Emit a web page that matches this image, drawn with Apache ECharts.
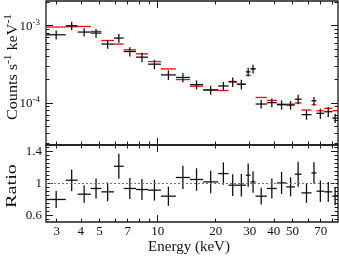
<!DOCTYPE html>
<html><head><meta charset="utf-8">
<script src="https://cdn.jsdelivr.net/npm/echarts@6/dist/echarts.min.js"></script>
<style>html,body{margin:0;padding:0;background:#fff}#c{width:339px;height:257px}</style>
</head><body><div id="c"></div>
<script>
// ---- data (energy bins in keV) ----
const binLo = [2.66, 3.34, 3.85, 4.50, 5.11, 5.94, 6.67, 7.72, 8.91, 10.4, 12.43, 14.70, 17.22, 20.59, 23.31, 25.73, 28.64, 30.29, 32.16, 36.80, 41.45, 46.42, 51.37, 55.64, 62.67, 66.53, 73.01, 80.33];
const binHi = [3.34, 3.85, 4.50, 5.11, 5.94, 6.67, 7.72, 8.91, 10.4, 12.43, 14.70, 17.22, 20.59, 23.31, 25.73, 28.64, 30.29, 32.16, 36.80, 41.45, 46.42, 51.37, 55.64, 62.67, 66.53, 73.01, 80.33, 86];
const counts = [7.64e-4, 1.0e-3, 8.28e-4, 8.04e-4, 5.79e-4, 6.92e-4, 4.64e-4, 3.92e-4, 3.18e-4, 2.31e-4, 2.14e-4, 1.73e-4, 1.475e-4, 1.66e-4, 1.875e-4, 1.75e-4, 2.53e-4, 2.77e-4, 9.7e-5, 1.01e-4, 9.5e-5, 9.4e-5, 1.12e-4, 7.07e-5, 1.07e-4, 7.35e-5, 7.71e-5, 6.38e-5];
const countErr = [1.02e-4, 1.28e-4, 1.02e-4, 1.06e-4, 7.6e-5, 8.8e-5, 6.4e-5, 5.5e-5, 4.5e-5, 3.3e-5, 2.9e-5, 2.3e-5, 2.0e-5, 2.1e-5, 2.6e-5, 2.5e-5, 3.3e-5, 3.6e-5, 1.2e-5, 1.3e-5, 1.3e-5, 1.2e-5, 1.6e-5, 1.0e-5, 1.3e-5, 1.1e-5, 1.1e-5, 8.6e-6];
const model = [9.62e-4, 9.70e-4, 9.79e-4, 8.43e-4, 6.44e-4, 5.79e-4, 4.88e-4, 4.33e-4, 3.44e-4, 2.76e-4, 2.01e-4, 1.65e-4, 1.475e-4, 1.45e-4, 1.90e-4, 1.75e-4, 2.28e-4, 2.77e-4, 1.18e-4, 1.08e-4, 9.65e-5, 9.65e-5, 1.0e-4, 8.1e-5, 9.45e-5, 7.94e-5, 8.53e-5, 7.94e-5];
const ratio = [0.801, 1.041, 0.867, 0.938, 0.896, 1.215, 0.938, 0.925, 0.917, 0.842, 1.075, 1.05, 1.02, 1.124, 0.979, 0.979, 1.103, 1.02, 0.842, 0.938, 1.007, 0.958, 1.116, 0.883, 1.132, 0.904, 0.896, 0.842];
const ratioErr = [0.107, 0.133, 0.107, 0.124, 0.118, 0.155, 0.13, 0.13, 0.13, 0.12, 0.145, 0.14, 0.14, 0.14, 0.135, 0.14, 0.145, 0.134, 0.104, 0.124, 0.139, 0.118, 0.155, 0.124, 0.134, 0.134, 0.124, 0.114];

// ---- axes ticks / labels ----
const xMin = 2.64, xMax = 86;
const xLabels = [3, 4, 5, 7, 10, 20, 30, 40, 50, 70];
const xMinorTicks = [3, 4, 5, 6, 7, 8, 9, 20, 30, 40, 50, 60, 70, 80];
const xMajorTicks = [10];
const yTopMin = 2.86e-5, yTopMax = 2.09e-3;
const yTopMajor = [1e-4, 1e-3];
const yTopMinor = [3e-5, 4e-5, 5e-5, 6e-5, 7e-5, 8e-5, 9e-5, 2e-4, 3e-4, 4e-4, 5e-4, 6e-4, 7e-4, 8e-4, 9e-4, 2e-3];
const yRatioMin = 0.52, yRatioMax = 1.48;
const yRatioMajor = [0.6, 1, 1.4];
const yRatioMinor = [0.55, 0.65, 0.7, 0.75, 0.8, 0.85, 0.9, 0.95, 1.05, 1.1, 1.15, 1.2, 1.25, 1.3, 1.35, 1.45];

const FONT = 'Liberation Serif';
const AX = '#1a1a1a';

function tickAxis(kind, grid, pos, ticks, len, extra) {
  const a = {
    gridIndex: grid, position: pos,
    axisLine: {show: false}, splitLine: {show: false},
    axisTick: {show: true, inside: true, length: len, customValues: ticks, lineStyle: {color: AX, width: 1}},
    axisLabel: {show: false}
  };
  if (kind === 'x') { a.type = 'log'; a.min = xMin; a.max = xMax; }
  else if (grid === 0) { a.type = 'log'; a.min = yTopMin; a.max = yTopMax; }
  else { a.type = 'value'; a.min = yRatioMin; a.max = yRatioMax; }
  return Object.assign(a, extra || {});
}

const xAxes = [
  tickAxis('x', 0, 'bottom', xMinorTicks, 3.5),
  tickAxis('x', 0, 'bottom', xMajorTicks, 7),
  tickAxis('x', 0, 'top', xMinorTicks, 3.5),
  tickAxis('x', 0, 'top', xMajorTicks, 7),
  tickAxis('x', 1, 'bottom', xMinorTicks, 3.5, {
    axisLabel: {show: true, customValues: xLabels, margin: 3, fontFamily: FONT, fontSize: 13, color: '#111',
      formatter: v => String(Math.round(v))}
  }),
  tickAxis('x', 1, 'bottom', xMajorTicks, 7),
  tickAxis('x', 1, 'top', xMinorTicks, 3.5),
  tickAxis('x', 1, 'top', xMajorTicks, 7)
];
const yAxes = [
  tickAxis('y', 0, 'left', yTopMinor, 3.5),
  tickAxis('y', 0, 'left', yTopMajor, 7, {
    axisLabel: {show: true, customValues: yTopMajor, margin: 6, color: '#111',
      formatter: v => '{n|10}{e|' + Math.round(Math.log10(v)) + '}',
      rich: {n: {fontFamily: FONT, fontSize: 13, verticalAlign: 'bottom', lineHeight: 15, color: '#111'},
             e: {fontFamily: FONT, fontSize: 9, verticalAlign: 'top', color: '#111'}}}
  }),
  tickAxis('y', 0, 'right', yTopMinor, 3.5),
  tickAxis('y', 0, 'right', yTopMajor, 7),
  tickAxis('y', 1, 'left', yRatioMinor, 3.5),
  tickAxis('y', 1, 'left', yRatioMajor, 7, {
    axisLabel: {show: true, customValues: yRatioMajor, margin: 4, fontFamily: FONT, fontSize: 13, color: '#111',
      formatter: v => String(v)}
  }),
  tickAxis('y', 1, 'right', yRatioMinor, 3.5),
  tickAxis('y', 1, 'right', yRatioMajor, 7)
];

function crossItem(params, api) {
  const lo = api.value(0), hi = api.value(1), v = api.value(2), e = api.value(3);
  const mid = Math.sqrt(lo * hi);
  const a = api.coord([lo, v]), b = api.coord([hi, v]);
  const t = api.coord([mid, v + e]), d = api.coord([mid, v - e]);
  const st = {stroke: '#111', lineWidth: 1.3};
  return {type: 'group', children: [
    {type: 'line', shape: {x1: a[0], y1: a[1], x2: b[0], y2: b[1]}, style: st},
    {type: 'line', shape: {x1: t[0], y1: t[1], x2: d[0], y2: d[1]}, style: st}
  ]};
}
function modelItem(params, api) {
  const lo = api.value(0), hi = api.value(1), v = api.value(2);
  const a = api.coord([lo, v]), b = api.coord([hi, v]);
  return {type: 'line', shape: {x1: a[0], y1: a[1], x2: b[0], y2: b[1]}, style: {stroke: '#ff0000', lineWidth: 1.3}};
}

const modelData = binLo.map((lo, i) => [lo, binHi[i], model[i]]);
const countData = binLo.map((lo, i) => [lo, binHi[i], counts[i], countErr[i]]);
const ratioData = binLo.map((lo, i) => [lo, binHi[i], ratio[i], ratioErr[i]]);

const chart = echarts.init(document.getElementById('c'), null, {renderer: 'canvas'});
chart.setOption({
  animation: false,
  backgroundColor: '#fff',
  grid: [
    {left: 46, top: 1, width: 292, height: 144, show: true, borderColor: AX, borderWidth: 1.3, backgroundColor: 'transparent'},
    {left: 46, top: 145, width: 292, height: 77, show: true, borderColor: AX, borderWidth: 1.3, backgroundColor: 'transparent'}
  ],
  xAxis: xAxes,
  yAxis: yAxes,
  series: [
    {type: 'custom', name: 'model', xAxisIndex: 0, yAxisIndex: 0, renderItem: modelItem, data: modelData,
     encode: {x: [0, 1], y: 2}, z: 2, silent: true},
    {type: 'custom', name: 'data', xAxisIndex: 0, yAxisIndex: 0, renderItem: crossItem, data: countData,
     encode: {x: [0, 1], y: 2}, z: 3, silent: true},
    {type: 'custom', name: 'ratio', xAxisIndex: 4, yAxisIndex: 4, renderItem: crossItem, data: ratioData,
     encode: {x: [0, 1], y: 2}, z: 3, silent: true,
     markLine: {silent: true, symbol: 'none', label: {show: false},
       lineStyle: {color: '#777', type: [2, 2], width: 1}, data: [{yAxis: 1}]}}
  ],
  graphic: [
    {type: 'text', x: 12, y: 67, rotation: Math.PI / 2, scaleX: 1.15,
     style: {text: '{a|Counts s}{s|-1}{a| keV}{s|-1}', textAlign: 'center', textVerticalAlign: 'middle',
       rich: {a: {fontFamily: FONT, fontSize: 14, verticalAlign: 'bottom', lineHeight: 17, fill: '#111'},
              s: {fontFamily: FONT, fontSize: 10, verticalAlign: 'top', fill: '#111'}}}},
    {type: 'text', x: 12, y: 186, rotation: Math.PI / 2, scaleX: 1.35,
     style: {text: 'Ratio', textAlign: 'center', textVerticalAlign: 'middle', font: '15px "Liberation Serif"', fill: '#111'}},
    {type: 'text', x: 189, y: 247,
     style: {text: 'Energy (keV)', textAlign: 'center', textVerticalAlign: 'middle', font: '15px "Liberation Serif"', fill: '#111'}}
  ]
});
</script>
</body></html>
